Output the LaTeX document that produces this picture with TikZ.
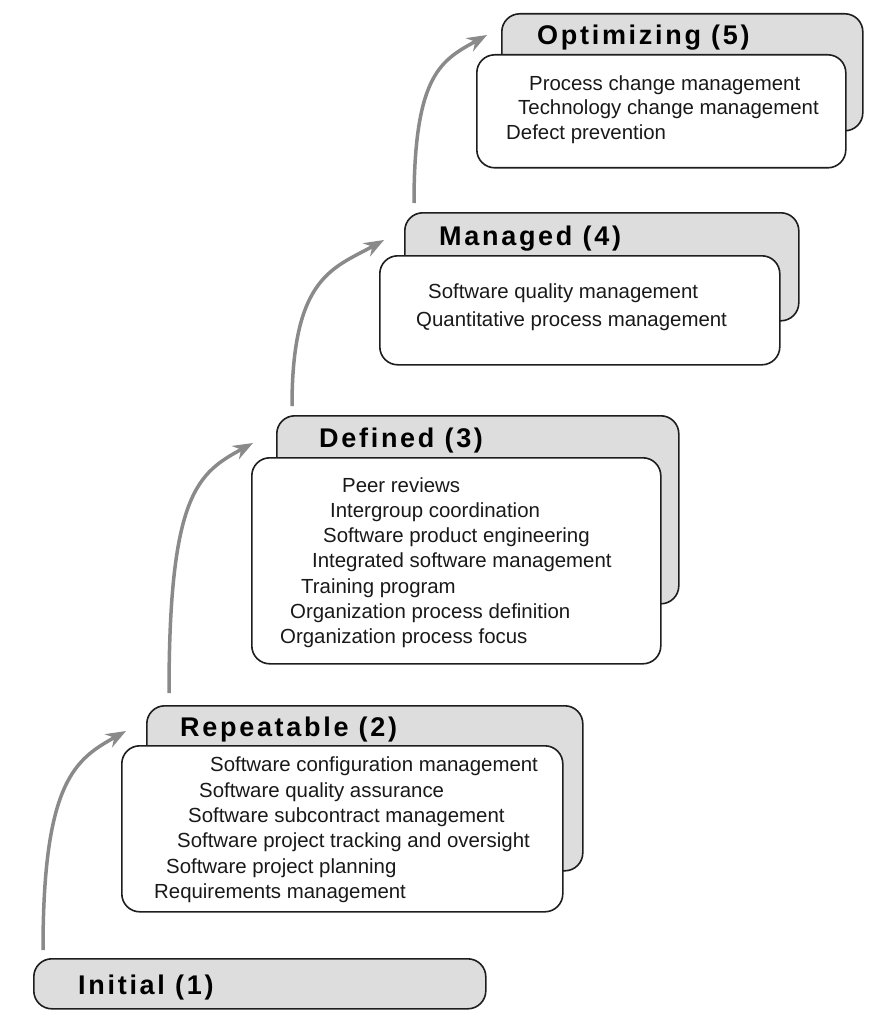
\documentclass[tikz,border=0pt]{standalone}
\usepackage{fontspec}
\setmainfont{Liberation Sans}
\newfontfamily\titlefont[LetterSpace=10]{Liberation Sans}
\usetikzlibrary{arrows.meta, positioning, calc}

\definecolor{boxgray}{RGB}{221,221,221}
\definecolor{arrowgray}{RGB}{138,138,138}
\definecolor{edgegray}{RGB}{30,30,30}

\begin{document}
\begin{tikzpicture}[
    x=1pt, y=-1pt,
    % gray tab that carries the level name
    levelbox/.style={rectangle, draw=edgegray, line width=1.6pt, rounded corners=18pt, fill=boxgray, anchor=north west, inner sep=0pt},
    % white card with the key process areas
    areabox/.style={levelbox, fill=white},
    leveltext/.style={font=\titlefont\bfseries\fontsize{27}{30}\selectfont, anchor=base west, inner sep=0pt},
    areatext/.style={font=\fontsize{20.4}{24}\selectfont, anchor=base west, inner sep=0pt, text=black!90},
    arrow/.style={-{Stealth[length=20pt, width=15pt]}, line width=3.5pt, color=arrowgray}
]
\useasboundingbox (0,0) rectangle (874,1011);

% =========================================================
% LEVEL 1
% =========================================================
\node[levelbox, minimum width=452pt, minimum height=50pt] (init) at (33,958) {};
\node[leveltext] (init_title) at (78,994) {Initial (1)};

% =========================================================
% LEVEL 2
% =========================================================
\node[levelbox, minimum width=436pt, minimum height=165pt] (rep_back) at (146,705) {};
\node[leveltext] (rep_title) at (180,736) {Repeatable (2)};
\node[areabox, minimum width=441pt, minimum height=166pt] (rep_card) at ([shift={(-25,40)}]rep_back.north west) {};

\node[areatext] (rep_scm) at (210,771) {Software configuration management};
\node[areatext] (rep_sqa) at (199,797) {Software quality assurance};
\node[areatext] (rep_ssm) at (188,822) {Software subcontract management};
\node[areatext] (rep_spto) at (177,847) {Software project tracking and oversight};
\node[areatext] (rep_spp) at (166,873) {Software project planning};
\node[areatext] (rep_rm) at (154,898) {Requirements management};

% =========================================================
% LEVEL 3
% =========================================================
\node[levelbox, minimum width=402pt, minimum height=188pt] (def_back) at (276,415) {};
\node[leveltext] (def_title) at (319,447) {Defined (3)};
\node[areabox, minimum width=409pt, minimum height=206pt] (def_card) at ([shift={(-25,42)}]def_back.north west) {};

\node[areatext] (def_pr) at (342,492) {Peer reviews};
\node[areatext] (def_ic) at (330,517) {Intergroup coordination};
\node[areatext] (def_spe) at (323,542) {Software product engineering};
\node[areatext] (def_ism) at (312,567) {Integrated software management};
\node[areatext] (def_tp) at (301,593) {Training program};
\node[areatext] (def_opd) at (290,618) {Organization process definition};
\node[areatext] (def_opf) at (280,643) {Organization process focus};

% =========================================================
% LEVEL 4
% =========================================================
\node[levelbox, minimum width=394pt, minimum height=108pt] (man_back) at (404,212) {};
\node[leveltext] (man_title) at (439,245) {Managed (4)};
\node[areabox, minimum width=400pt, minimum height=109pt] (man_card) at ([shift={(-25,43)}]man_back.north west) {};

\node[areatext] (man_sqm) at (428,298) {Software quality management};
\node[areatext] (man_qpm) at (416,326) {Quantitative process management};

% =========================================================
% LEVEL 5
% =========================================================
\node[levelbox, minimum width=361pt, minimum height=117pt] (opt_back) at (501,13) {};
\node[leveltext] (opt_title) at (537,45) {Optimizing (5)};
\node[areabox, minimum width=369pt, minimum height=113pt] (opt_card) at ([shift={(-25,41)}]opt_back.north west) {};

\node[areatext] (opt_pcm) at (529,91) {Process change management};
\node[areatext] (opt_tcm) at (518,115) {Technology change management};
\node[areatext] (opt_dp) at (506,140) {Defect prevention};

% =========================================================
% STEPS UP
% =========================================================
\draw[arrow] ([shift={(10,-8)}]init.north west) .. controls +(0,-170) and +(-50,28) .. ([shift={(-20,26)}]rep_back.north west);
\draw[arrow] ([shift={(23,-12)}]rep_back.north west) .. controls +(0,-200) and +(-55,30) .. ([shift={(-23,28)}]def_back.north west);
\draw[arrow] ([shift={(16,-9)}]def_back.north west) .. controls +(0,-130) and +(-50,28) .. ([shift={(-20,28)}]man_back.north west);
\draw[arrow] ([shift={(10,-9)}]man_back.north west) .. controls +(0,-130) and +(-45,25) .. ([shift={(-14,22)}]opt_back.north west);

\end{tikzpicture}
\end{document}
